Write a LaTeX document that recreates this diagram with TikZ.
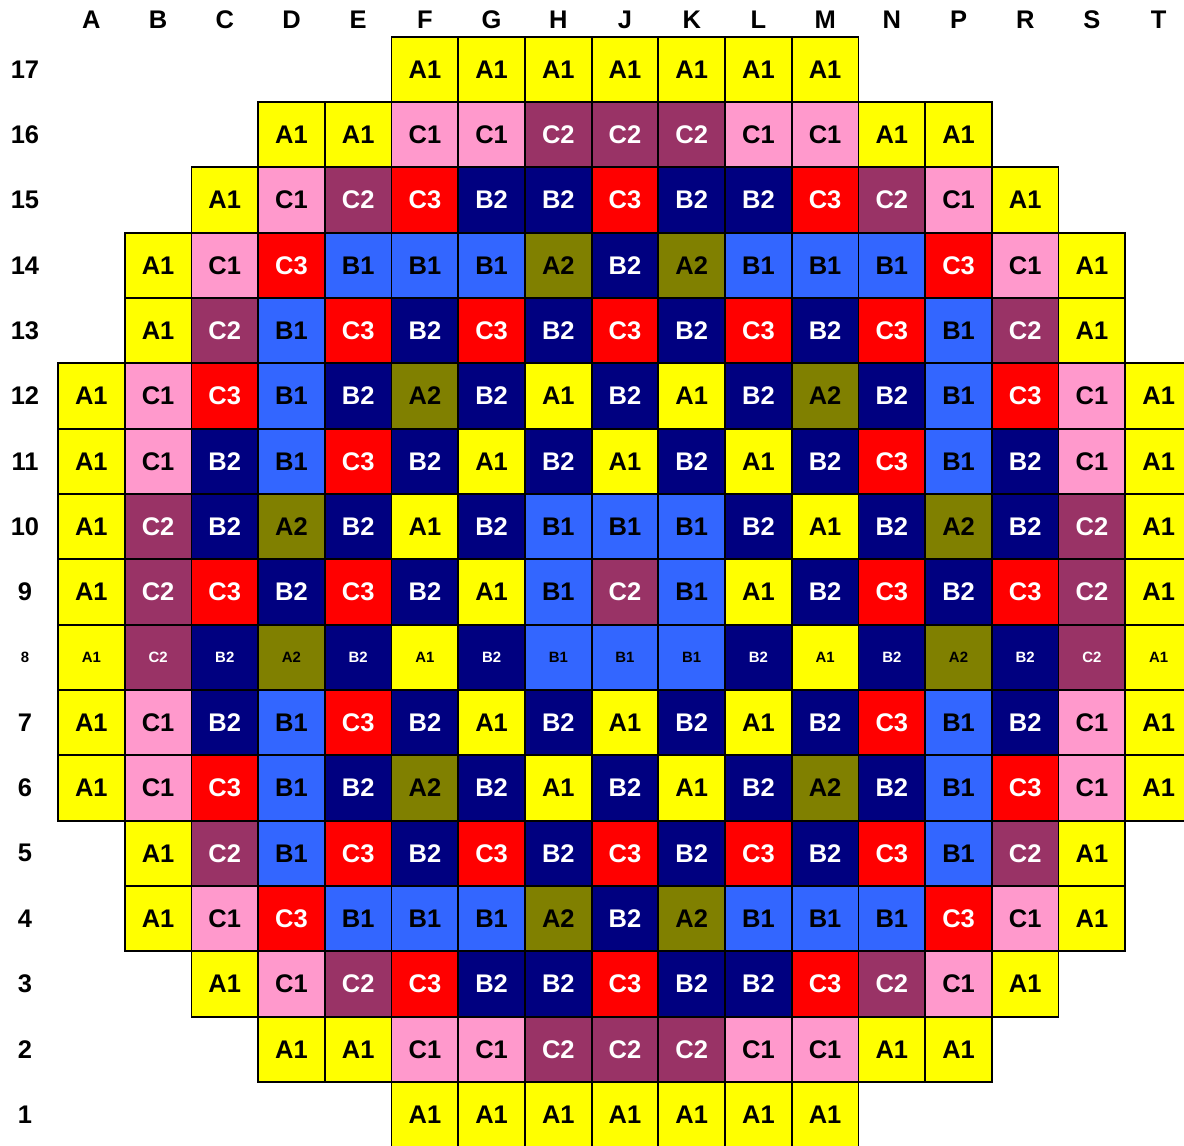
\documentclass[tikz,border=0pt]{standalone}
\usepackage{fontspec}
\setmainfont{Liberation Sans}
\usepackage{xcolor}
\usepackage{tikz}
\definecolor{FuelAone}{HTML}{FFFF00}
\definecolor{FuelAtwo}{HTML}{808000}
\definecolor{FuelBone}{HTML}{3366FF}
\definecolor{FuelBtwo}{HTML}{000080}
\definecolor{FuelCone}{HTML}{FF99CC}
\definecolor{FuelCtwo}{HTML}{993366}
\definecolor{FuelCthree}{HTML}{FF0000}

\begin{document}
\begin{tikzpicture}[x=1.334cm, y=1.3066cm,
    every node/.style={font=\bfseries},
    cell/.style={draw=black, line width=1pt, inner sep=0pt,
      minimum width=1.334cm, minimum height=1.3066cm},
    tagbig/.style={font=\bfseries\fontsize{14.5}{16}\selectfont},
    tagsmall/.style={font=\bfseries\fontsize{8.5}{10}\selectfont},
    A1/.style={fill=FuelAone, text=black},
    A2/.style={fill=FuelAtwo, text=black},
    B1/.style={fill=FuelBone, text=black},
    B2/.style={fill=FuelBtwo, text=white},
    C1/.style={fill=FuelCone, text=black},
    C2/.style={fill=FuelCtwo, text=white},
    C3/.style={fill=FuelCthree, text=white}]
  \useasboundingbox (-0.8696,0.035) rectangle (16.88,17.561);
  % column letters
  \foreach \k [count=\i from 0] in {A,B,C,D,E,F,G,H,J,K,L,M,N,P,R,S,T}
    \node[tagbig] (col\k) at (\i+0.5,17.255) {\k};
  % core map, one row per line: row / first column / text size / assemblies
  \foreach \r/\first/\sz/\list in {
    17/5/tagbig/{A1,A1,A1,A1,A1,A1,A1},
    16/3/tagbig/{A1,A1,C1,C1,C2,C2,C2,C1,C1,A1,A1},
    15/2/tagbig/{A1,C1,C2,C3,B2,B2,C3,B2,B2,C3,C2,C1,A1},
    14/1/tagbig/{A1,C1,C3,B1,B1,B1,A2,B2,A2,B1,B1,B1,C3,C1,A1},
    13/1/tagbig/{A1,C2,B1,C3,B2,C3,B2,C3,B2,C3,B2,C3,B1,C2,A1},
    12/0/tagbig/{A1,C1,C3,B1,B2,A2,B2,A1,B2,A1,B2,A2,B2,B1,C3,C1,A1},
    11/0/tagbig/{A1,C1,B2,B1,C3,B2,A1,B2,A1,B2,A1,B2,C3,B1,B2,C1,A1},
    10/0/tagbig/{A1,C2,B2,A2,B2,A1,B2,B1,B1,B1,B2,A1,B2,A2,B2,C2,A1},
    9/0/tagbig/{A1,C2,C3,B2,C3,B2,A1,B1,C2,B1,A1,B2,C3,B2,C3,C2,A1},
    8/0/tagsmall/{A1,C2,B2,A2,B2,A1,B2,B1,B1,B1,B2,A1,B2,A2,B2,C2,A1},
    7/0/tagbig/{A1,C1,B2,B1,C3,B2,A1,B2,A1,B2,A1,B2,C3,B1,B2,C1,A1},
    6/0/tagbig/{A1,C1,C3,B1,B2,A2,B2,A1,B2,A1,B2,A2,B2,B1,C3,C1,A1},
    5/1/tagbig/{A1,C2,B1,C3,B2,C3,B2,C3,B2,C3,B2,C3,B1,C2,A1},
    4/1/tagbig/{A1,C1,C3,B1,B1,B1,A2,B2,A2,B1,B1,B1,C3,C1,A1},
    3/2/tagbig/{A1,C1,C2,C3,B2,B2,C3,B2,B2,C3,C2,C1,A1},
    2/3/tagbig/{A1,A1,C1,C1,C2,C2,C2,C1,C1,A1,A1},
    1/5/tagbig/{A1,A1,A1,A1,A1,A1,A1}%
    }{
    \node[\sz] (row\r) at (-0.495,\r-0.5) {\r};
    \foreach \t [count=\i from 0] in \list {
      \pgfmathtruncatemacro\c{\first+\i}
      \node[cell, \sz, \t] (fa-\r-\c) at (\c+0.5,\r-0.5) {\t};
    }
  }
\end{tikzpicture}
\end{document}
